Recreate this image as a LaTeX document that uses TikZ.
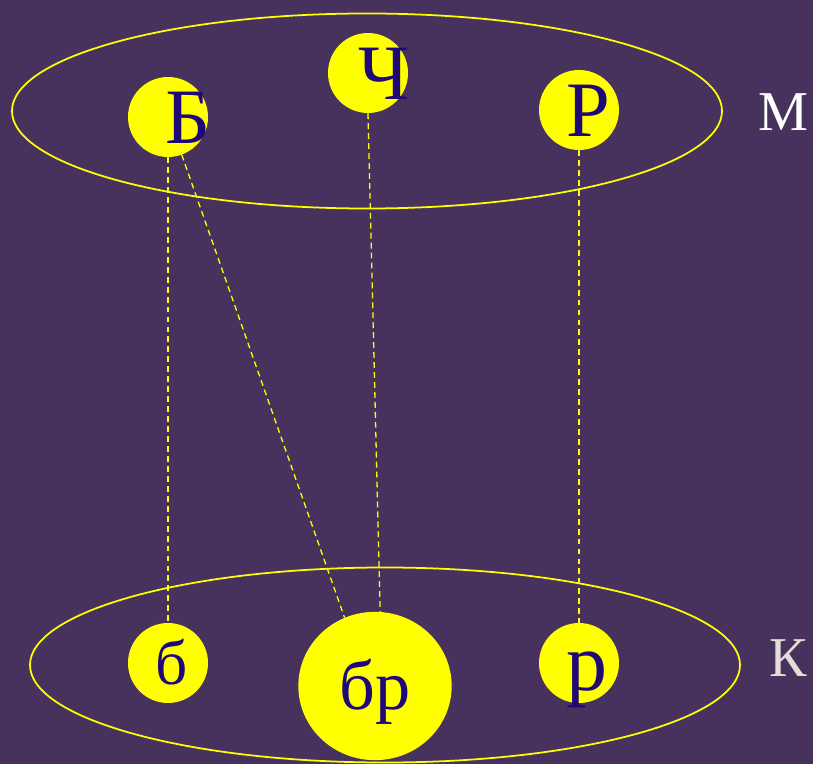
\documentclass[tikz,border=0pt]{standalone}
\usepackage{fontspec}
\setmainfont{Liberation Serif}
\usepackage{xcolor}
\usetikzlibrary{positioning, shapes.geometric}

\definecolor{bgpurple}{HTML}{47325E}
\definecolor{inkblue}{HTML}{1F0878}
\definecolor{labelgray}{HTML}{E4DED8}
\definecolor{discyellow}{RGB}{255,255,0}

% letter set on the centre of a disc, without widening it
\newcommand{\inel}[2][0em]{\smash{\raisebox{-0.34em}{\makebox[0pt]{\hspace{#1}#2}}}}

\begin{document}
\begin{tikzpicture}[
    x=0.03cm, y=-0.03cm,
    setbox/.style={ellipse, draw=discyellow, line width=1.5pt, inner sep=0pt,
                   minimum width=21.3cm, minimum height=5.85cm},
    elem/.style={circle, fill=discyellow, inner sep=0pt, minimum size=2.4cm,
                 text=inkblue, font=\fontsize{67}{67}\selectfont},
    setname/.style={font=\fontsize{48}{48}\selectfont, text=labelgray},
    link/.style={discyellow, line width=1.1pt, dash pattern=on 5pt off 3.5pt}
  ]
  \fill[bgpurple] (0,0) rectangle (813,764);
  % two sets
  \node[setbox] (setM) at (367,111) {};
  \node[setbox] (setK) at (385,665) {};
  \node[setname, text=white] (nameM) at (783,112) {М};
  \node[setname] (nameK) at (788,658) {К};
  % upper elements
  \node[elem] (B)  at (168,117) {\inel[0.5em]{Б}};
  \node[elem] (Ch) at (368,73)  {\inel[0.4em]{Ч}};
  \node[elem] (R)  at (579,110) {\inel[0.25em]{Р}};
  % lower elements
  \node[elem, font=\fontsize{54}{54}\selectfont] (b) at (168,663) {\inel[0.1em]{б}};
  \node[elem, ellipse, minimum width=4.6cm, minimum height=4.45cm,
        font=\fontsize{60}{60}\selectfont] (br) at (375,686) {\inel{бр}};
  \node[elem, font=\fontsize{70}{70}\selectfont] (r) at (579,663) {\inel[0.2em]{р}};
  % correspondences
  \draw[link] (B.south) -- (b.north);
  \draw[link] (B.-70) -- (br.114);
  \draw[link] (Ch.south) -- (br.86);
  \draw[link] (R.south) -- (r.north);
\end{tikzpicture}
\end{document}
